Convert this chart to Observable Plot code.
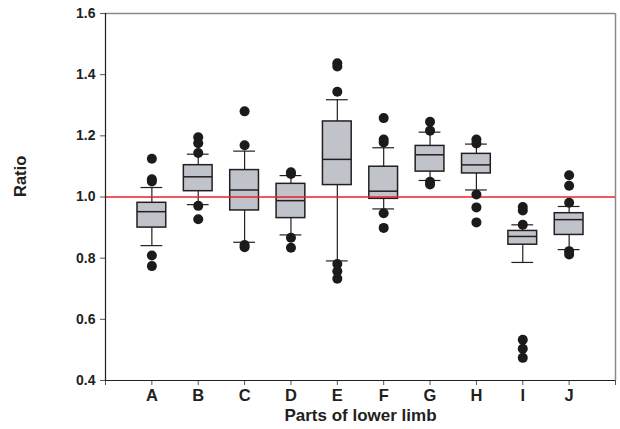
<!DOCTYPE html>
<html>
<head>
<meta charset="utf-8">
<script src="https://cdn.jsdelivr.net/npm/d3@7"></script>
<script src="https://cdn.jsdelivr.net/npm/@observablehq/plot@0.6"></script>
<style>
  html, body { margin: 0; padding: 0; background: #fff; }
  #chart svg { display: block; }
</style>
</head>
<body>
<div id="chart"></div>
<script>
const categories = ["A", "B", "C", "D", "E", "F", "G", "H", "I", "J"];
const whiskerLow  = [0.841, 0.975, 0.852, 0.876, 0.791, 0.961, 1.054, 1.023, 0.786, 0.828];
const q1          = [0.900, 1.019, 0.956, 0.931, 1.039, 0.994, 1.083, 1.077, 0.844, 0.876];
const median      = [0.952, 1.066, 1.023, 0.988, 1.123, 1.019, 1.138, 1.105, 0.871, 0.926];
const q3          = [0.981, 1.104, 1.088, 1.043, 1.247, 1.099, 1.167, 1.141, 0.889, 0.947];
const whiskerHigh = [1.031, 1.140, 1.150, 1.070, 1.318, 1.161, 1.212, 1.173, 0.909, 0.969];
const outliers = [
  [1.125, 1.058, 1.051, 0.809, 0.774],
  [1.195, 1.176, 1.144, 0.971, 0.927],
  [1.280, 1.169, 0.843, 0.836],
  [1.081, 1.075, 0.867, 0.834],
  [1.437, 1.427, 1.344, 0.781, 0.757, 0.733],
  [1.258, 1.188, 1.178, 0.947, 0.899],
  [1.246, 1.217, 1.050, 1.041],
  [1.188, 1.175, 1.008, 0.966, 0.917],
  [0.967, 0.956, 0.909, 0.533, 0.504, 0.474],
  [1.071, 1.037, 0.981, 0.823, 0.812]
];
const yTicks = [0.4, 0.6, 0.8, 1.0, 1.2, 1.4, 1.6];
const referenceValue = 1.0;

const boxes = categories.map((c, i) => ({
  cat: c, pos: i + 1,
  lo: whiskerLow[i], q1: q1[i], med: median[i], q3: q3[i], hi: whiskerHigh[i]
}));
const dots = categories.flatMap((c, i) => outliers[i].map(v => ({cat: c, pos: i + 1, v})));

const boxHalf = 0.31, capHalf = 0.235;
const ink = "#231f20";
const font = "'Liberation Sans', Arial, Helvetica, sans-serif";

const chart = Plot.plot({
  width: 620,
  height: 429,
  marginLeft: 105,
  marginRight: 5,
  marginTop: 13,
  marginBottom: 49,
  style: {fontFamily: font, color: ink, background: "#fff"},
  x: {domain: [0, categories.length + 1]},
  y: {domain: [0.4, 1.6]},
  marks: [
    // frame (top & right grey)
    Plot.ruleY([1.6], {stroke: "#8a8a8a", strokeWidth: 1.5}),
    Plot.ruleX([categories.length + 1], {stroke: "#8a8a8a", strokeWidth: 1.5}),
    // whiskers
    Plot.ruleX(boxes, {x: "pos", y1: "lo", y2: "q1", stroke: ink, strokeWidth: 1.2}),
    Plot.ruleX(boxes, {x: "pos", y1: "q3", y2: "hi", stroke: ink, strokeWidth: 1.2}),
    Plot.ruleY(boxes, {y: "lo", x1: d => d.pos - capHalf, x2: d => d.pos + capHalf, stroke: ink, strokeWidth: 1.2}),
    Plot.ruleY(boxes, {y: "hi", x1: d => d.pos - capHalf, x2: d => d.pos + capHalf, stroke: ink, strokeWidth: 1.2}),
    // boxes
    Plot.rect(boxes, {x1: d => d.pos - boxHalf, x2: d => d.pos + boxHalf, y1: "q1", y2: "q3", fill: "#c1c3cb", stroke: ink, strokeWidth: 1.5}),
    Plot.ruleY(boxes, {y: "med", x1: d => d.pos - boxHalf, x2: d => d.pos + boxHalf, stroke: ink, strokeWidth: 1.5}),
    // reference line
    Plot.ruleY([referenceValue], {stroke: "#e8202a", strokeWidth: 1.3}),
    // outliers
    Plot.dot(dots, {x: "pos", y: "v", r: 5, fill: "#1c1a1b", stroke: "none"}),
    // axes
    Plot.axisY({ticks: yTicks, tickFormat: d => d.toFixed(1), tickSize: 5, tickPadding: 5, stroke: "#555",
      fontSize: 14, fontWeight: "bold", fill: ink, label: null}),
    Plot.axisX({ticks: d3.range(0, categories.length + 2), tickFormat: d => (d >= 1 && d <= categories.length) ? categories[d - 1] : "",
      tickSize: 5, tickPadding: 4, stroke: "#555", fontSize: 16.5, fontWeight: "bold", fill: ink, label: null}),
    Plot.ruleX([0], {stroke: ink, strokeWidth: 1.2, y1: 0.4, y2: 1.6}),
    Plot.ruleY([0.4], {stroke: ink, strokeWidth: 1.2}),
    // axis titles
    Plot.text(["Parts of lower limb"], {frameAnchor: "bottom", dy: 40, fontSize: 17, fontWeight: "bold", fill: ink}),
    Plot.text(["Ratio"], {frameAnchor: "left", dx: -85, rotate: -90, fontSize: 16.5, fontWeight: "bold", fill: ink})
  ]
});
document.getElementById("chart").appendChild(chart);
</script>
</body>
</html>
